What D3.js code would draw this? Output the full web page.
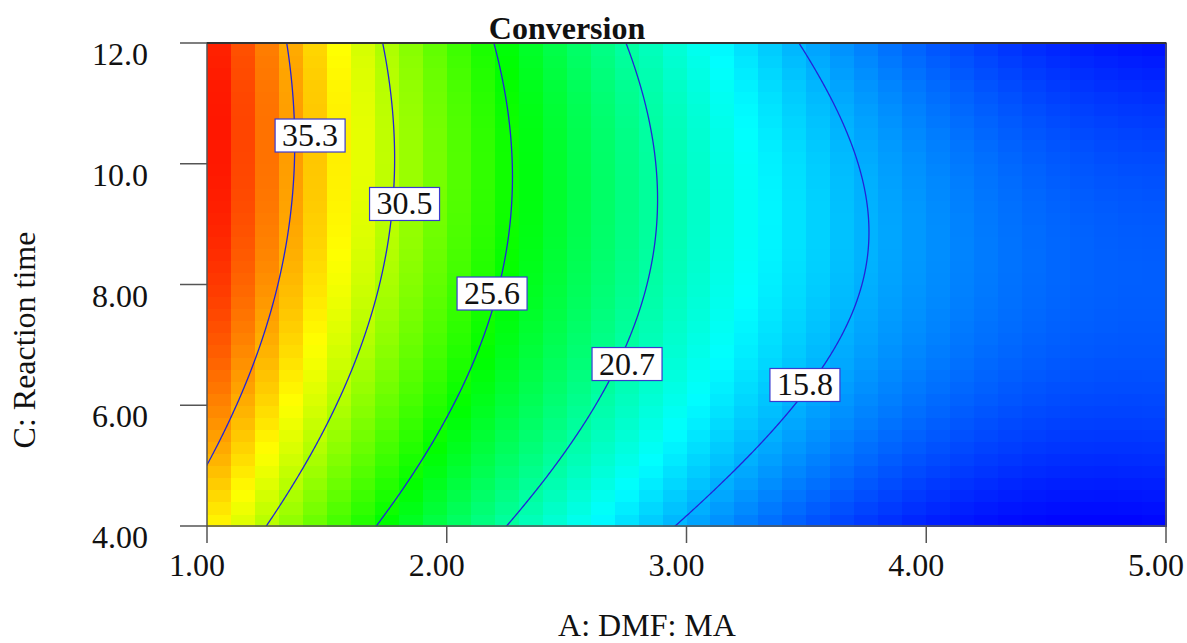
<!DOCTYPE html>
<html>
<head>
<meta charset="utf-8">
<script src="https://cdn.jsdelivr.net/npm/d3@7"></script>
<style>
  html, body { margin: 0; padding: 0; background: #fff; }
  svg { display: block; font-family: "Liberation Serif", "Times New Roman", serif; }
</style>
</head>
<body>
<svg id="chart" width="1187" height="643"></svg>
<script>
// Factor ranges (actual units)
const rangeA = [1, 5];     // A: DMF: MA
const rangeC = [4, 12];    // C: Reaction time

// Fitted quadratic model in coded units (a, c in [-1, 1])
const modelTerms = ["Intercept", "A", "C", "AC", "A^2", "C^2"];
const coefficients = [19.6, -12.8, 1.63, -1.5, 6.6, -2.44];

// Contour levels and where their labels sit (A, C)
const contourLevels = [15.8, 20.7, 25.6, 30.5, 35.3];
const labelA = [3.494, 2.752, 2.189, 1.824, 1.430];
const labelC = [6.344, 6.691, 7.859, 9.342, 10.476];

// Axis ticks
const xTickValues = [1, 2, 3, 4, 5];
const xTickLabels = ["1.00", "2.00", "3.00", "4.00", "5.00"];
const yTickValues = [4, 6, 8, 10, 12];
const yTickLabels = ["4.00", "6.00", "8.00", "10.0", "12.0"];

const titleText = "Conversion";
const xTitle = "A: DMF: MA";
const yTitle = "C: Reaction time";

// Number of heat-map cells along each axis
const cellsA = 40, cellsC = 40;

(function () {
function predict(A, C) {
  const a = (A - 3) / 2, c = (C - 8) / 4;
  const [b0, b1, b2, b12, b11, b22] = coefficients;
  return b0 + b1 * a + b2 * c + b12 * a * c + b11 * a * a + b22 * c * c;
}

const svg = d3.select("#chart");
const plotL = 207, plotR = 1166, plotT = 43, plotB = 526;
const x = d3.scaleLinear(rangeA, [plotL, plotR]);
const y = d3.scaleLinear(rangeC, [plotB, plotT]);

// Colour range spans the response over the plotted region
let vmin = Infinity, vmax = -Infinity;
for (let i = 0; i <= cellsA; i++) {
  for (let j = 0; j <= cellsC; j++) {
    const v = predict(rangeA[0] + (rangeA[1] - rangeA[0]) * i / cellsA,
                      rangeC[0] + (rangeC[1] - rangeC[0]) * j / cellsC);
    vmin = Math.min(vmin, v); vmax = Math.max(vmax, v);
  }
}
const rainbow = d3.scaleLinear()
  .domain([0, 0.25, 0.5, 0.75, 1].map(t => vmin + t * (vmax - vmin)))
  .range(["#0000ff", "#00ffff", "#00ff00", "#ffff00", "#ff0000"])
  .clamp(true);

// Heat-map cells
const cells = [];
const dA = (rangeA[1] - rangeA[0]) / cellsA, dC = (rangeC[1] - rangeC[0]) / cellsC;
for (let i = 0; i < cellsA; i++) {
  for (let j = 0; j < cellsC; j++) {
    const a0 = rangeA[0] + i * dA, c0 = rangeC[0] + j * dC;
    cells.push({ a0, c0, v: predict(a0 + dA / 2, c0 + dC / 2) });
  }
}
svg.append("g").attr("shape-rendering", "crispEdges")
  .selectAll("rect").data(cells).join("rect")
  .attr("x", d => x(d.a0))
  .attr("y", d => y(d.c0 + dC))
  .attr("width", d => x(d.a0 + dA) - x(d.a0) + 0.6)
  .attr("height", d => y(d.c0) - y(d.c0 + dC) + 0.6)
  .attr("fill", d => rainbow(d.v));

// Contour lines from a fine grid that reaches slightly past the plot edges
svg.append("clipPath").attr("id", "plotClip")
  .append("rect").attr("x", plotL).attr("y", plotT)
  .attr("width", plotR - plotL).attr("height", plotB - plotT);

const gn = 240, gm = 240;
const gA0 = rangeA[0] - 0.1, gA1 = rangeA[1] + 0.1;
const gC0 = rangeC[0] - 0.2, gC1 = rangeC[1] + 0.2;
const sA = (gA1 - gA0) / (gn - 1), sC = (gC1 - gC0) / (gm - 1);
const grid = new Array(gn * gm);
for (let j = 0; j < gm; j++) {
  for (let i = 0; i < gn; i++) {
    grid[j * gn + i] = predict(gA0 + i * sA, gC0 + j * sC);
  }
}
const contours = d3.contours().size([gn, gm]).thresholds(contourLevels)(grid);
const toPlot = d3.geoTransform({
  point(px, py) {
    this.stream.point(x(gA0 + (px - 0.5) * sA), y(gC0 + (py - 0.5) * sC));
  }
});
const path = d3.geoPath(toPlot);
svg.append("g").attr("clip-path", "url(#plotClip)")
  .selectAll("path").data(contours).join("path")
  .attr("d", path)
  .attr("fill", "none")
  .attr("stroke", "#2323d8")
  .attr("stroke-width", 1.3);

// Plot frame
svg.append("rect")
  .attr("x", plotL).attr("y", plotT)
  .attr("width", plotR - plotL).attr("height", plotB - plotT)
  .attr("fill", "none").attr("stroke", "#555").attr("stroke-width", 1.5);
svg.append("line").attr("x1", plotL).attr("x2", plotR).attr("y1", plotT).attr("y2", plotT)
  .attr("stroke", "#333").attr("stroke-width", 2);

// Contour labels
const labels = svg.append("g");
contourLevels.forEach((lvl, k) => {
  const cx = x(labelA[k]), cy = y(labelC[k]);
  const g = labels.append("g");
  const rect = g.append("rect");
  const t = g.append("text")
    .attr("x", cx).attr("y", cy + 11)
    .attr("text-anchor", "middle")
    .attr("font-size", 32).attr("fill", "#111")
    .text(lvl.toFixed(1));
  const w = t.node().getComputedTextLength();
  rect.attr("x", cx - w / 2 - 7).attr("y", cy - 16)
    .attr("width", w + 14).attr("height", 33)
    .attr("fill", "#fff").attr("stroke", "#3a3ad0").attr("stroke-width", 1.2);
});

// X axis ticks and labels
const xa = svg.append("g");
xa.selectAll("line").data(xTickValues).join("line")
  .attr("x1", d => x(d)).attr("x2", d => x(d))
  .attr("y1", plotB).attr("y2", plotB + 17)
  .attr("stroke", "#555").attr("stroke-width", 1.5);
xa.selectAll("text").data(xTickValues).join("text")
  .attr("x", d => x(d) - 10).attr("y", 576)
  .attr("text-anchor", "middle").attr("font-size", 32).attr("fill", "#111")
  .text((d, i) => xTickLabels[i]);

// Y axis ticks and labels
const ya = svg.append("g");
ya.selectAll("line").data(yTickValues).join("line")
  .attr("x1", plotL - 27).attr("x2", plotL)
  .attr("y1", d => y(d)).attr("y2", d => y(d))
  .attr("stroke", "#555").attr("stroke-width", 1.5);
ya.selectAll("text").data(yTickValues).join("text")
  .attr("x", 148).attr("y", d => y(d) + 22)
  .attr("text-anchor", "end").attr("font-size", 32).attr("fill", "#111")
  .text((d, i) => yTickLabels[i]);

// Titles
svg.append("text").attr("x", 567).attr("y", 39)
  .attr("text-anchor", "middle").attr("font-size", 32).attr("font-weight", "bold")
  .attr("fill", "#111").text(titleText);
svg.append("text").attr("x", 647).attr("y", 636)
  .attr("text-anchor", "middle").attr("font-size", 32).attr("fill", "#111")
  .text(xTitle);
svg.append("text")
  .attr("transform", "translate(35,340) rotate(-90)")
  .attr("text-anchor", "middle").attr("font-size", 32).attr("fill", "#111")
  .text(yTitle);
})();
</script>
</body>
</html>
